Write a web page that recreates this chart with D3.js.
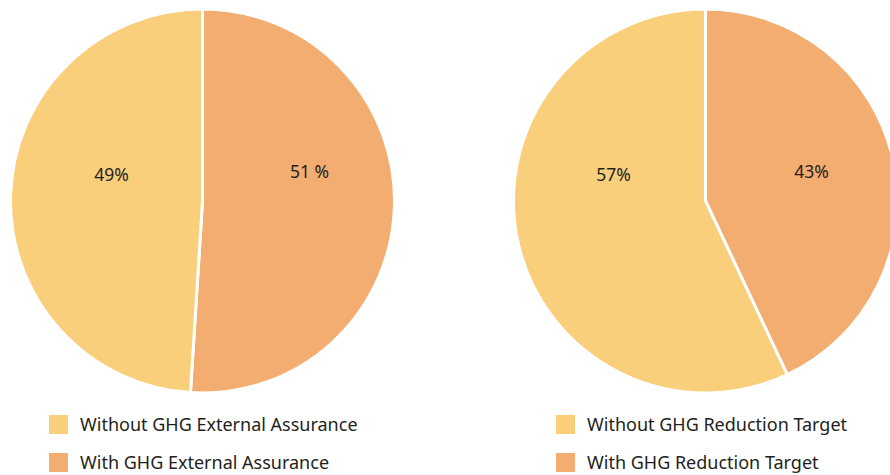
<!DOCTYPE html>
<html>
<head>
<meta charset="utf-8">
<script src="https://cdn.jsdelivr.net/npm/d3@7"></script>
<style>
  html, body { margin: 0; padding: 0; background: #fff; }
  svg { display: block; font-family: "Noto Sans", "Open Sans", sans-serif; }
</style>
</head>
<body>
<svg id="chart" width="890" height="475"></svg>
<script>
// Share of companies, two breakdowns
const assuranceCategories = ["With GHG External Assurance", "Without GHG External Assurance"];
const assuranceValues = [51, 49];
const assuranceLabels = ["51 %", "49%"];

const targetCategories = ["With GHG Reduction Target", "Without GHG Reduction Target"];
const targetValues = [43, 57];
const targetLabels = ["43%", "57%"];

const colors = ["#F4AD71", "#F9CF7C"];

const svg = d3.select("#chart");
const radius = 192;

const pie = d3.pie().sort(null).value(d => d.value);
const arc = d3.arc().innerRadius(0).outerRadius(radius);

function drawPie(cx, cy, categories, values, labels, labelOffsets, legendX) {
  const data = categories.map((c, i) => ({ name: c, value: values[i], label: labels[i] }));
  const color = d3.scaleOrdinal().domain(categories).range(colors);
  const g = svg.append("g").attr("transform", `translate(${cx},${cy})`);

  g.selectAll("path")
    .data(pie(data))
    .join("path")
    .attr("d", arc)
    .attr("fill", d => color(d.data.name))
    .attr("stroke", "#fff")
    .attr("stroke-width", 3)
    .attr("stroke-linejoin", "miter");

  g.selectAll("text.val")
    .data(data)
    .join("text")
    .attr("class", "val")
    .attr("x", (d, i) => labelOffsets[i][0])
    .attr("y", (d, i) => labelOffsets[i][1])
    .attr("text-anchor", "middle")
    .attr("font-size", 17.5)
    .attr("fill", "#231f20")
    .text(d => d.label);

  // legend: "Without" first, then "With"
  const legendItems = [data[1], data[0]];
  const lg = svg.append("g").attr("transform", `translate(${legendX},415)`);
  const row = lg.selectAll("g").data(legendItems).join("g")
    .attr("transform", (d, i) => `translate(0,${i * 38})`);
  row.append("rect")
    .attr("width", 19).attr("height", 19)
    .attr("fill", d => color(d.name));
  row.append("text")
    .attr("x", 31).attr("y", 16)
    .attr("font-size", 18)
    .attr("fill", "#231f20")
    .text(d => d.name);
}

drawPie(202.5, 201, assuranceCategories, assuranceValues, assuranceLabels,
  [[107, -23], [-91, -20]], 49);
drawPie(705.5, 201, targetCategories, targetValues, targetLabels,
  [[106, -23], [-92, -20]], 556);
</script>
</body>
</html>
